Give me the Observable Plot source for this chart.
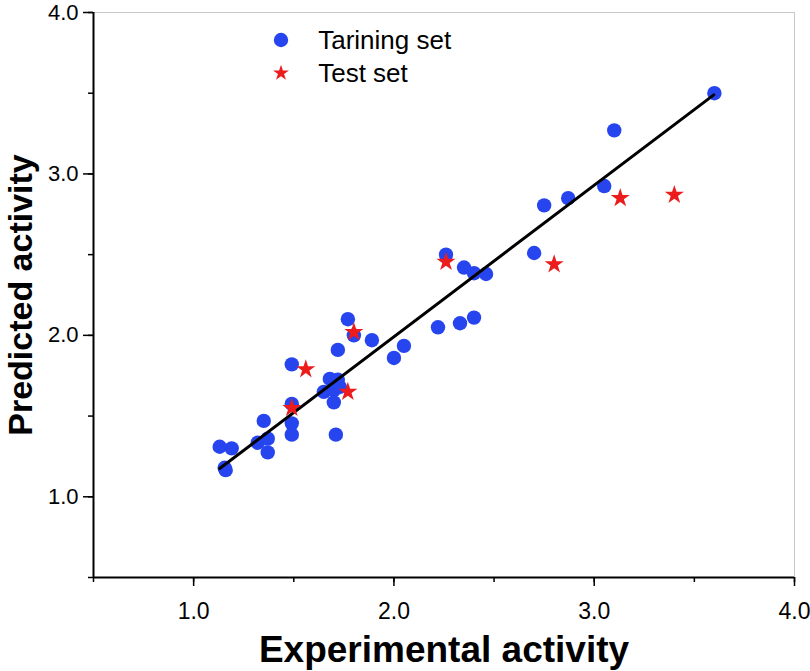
<!DOCTYPE html>
<html>
<head>
<meta charset="utf-8">
<script src="https://cdn.jsdelivr.net/npm/d3@7"></script>
<script src="https://cdn.jsdelivr.net/npm/@observablehq/plot@0.6"></script>
<style>
  html, body { margin: 0; padding: 0; background: white; }
</style>
</head>
<body>
<div id="chart"></div>
<script>
// Training set
const trainX = [1.13, 1.19, 1.155, 1.16, 1.32, 1.35, 1.37, 1.37, 1.49, 1.49, 1.49, 1.49,
  1.65, 1.68, 1.72, 1.70, 1.73, 1.70, 1.71, 1.72, 1.77, 1.80, 1.89, 2.00, 2.05,
  2.22, 2.33, 2.40, 2.26, 2.35, 2.40, 2.46, 2.70, 2.75, 2.87, 3.05, 3.10, 3.60];
const trainY = [1.31, 1.30, 1.18, 1.165, 1.335, 1.47, 1.36, 1.275, 1.385, 1.455, 1.575, 1.82,
  1.65, 1.73, 1.725, 1.66, 1.68, 1.585, 1.385, 1.91, 2.10, 2.00, 1.97, 1.86, 1.935,
  2.05, 2.075, 2.11, 2.50, 2.42, 2.385, 2.38, 2.51, 2.805, 2.85, 2.925, 3.27, 3.50];
// Test set
const testX = [1.49, 1.56, 1.77, 1.80, 2.26, 2.80, 3.13, 3.40];
const testY = [1.55, 1.79, 1.65, 2.02, 2.455, 2.44, 2.85, 2.87];
// Fitted line
const lineX = [1.13, 3.597];
const lineY = [1.175, 3.49];
// Ticks
const xTicks = [1, 2, 3, 4];
const yTicks = [1, 2, 3, 4];
const minorTicks = [0.5, 1, 1.5, 2, 2.5, 3, 3.5, 4];
const legendLabels = ["Tarining set", "Test set"];
const xLabel = "Experimental activity";
const yLabel = "Predicted activity";

const blue = "#2745ee";
const red = "#ec1c1c";

const train = trainX.map((x, i) => ({x, y: trainY[i]}));
const test = testX.map((x, i) => ({x, y: testY[i]}));
const fit = lineX.map((x, i) => ({x, y: lineY[i]}));
const fmt = d3.format(".1f");

const chart = Plot.plot({
  width: 810,
  height: 671,
  marginLeft: 93,
  marginRight: 16,
  marginTop: 12,
  marginBottom: 94,
  style: {fontFamily: "'Liberation Sans', Arial, sans-serif", background: "white", color: "black", overflow: "visible"},
  x: {domain: [0.5, 4], label: null},
  y: {domain: [0.5, 4], label: null},
  marks: [
    Plot.ruleY([4], {stroke: "#c8c8c8", strokeWidth: 1}),
    Plot.ruleX([4], {stroke: "#c8c8c8", strokeWidth: 1}),
    Plot.axisX(minorTicks, {tickSize: 5, tickFormat: () => "", strokeWidth: 1.5, label: null}),
    Plot.axisX(xTicks, {tickSize: 9, tickPadding: 16, tickFormat: fmt, fontSize: 23, strokeWidth: 1.5, label: null}),
    Plot.axisY(minorTicks, {tickSize: 5, tickFormat: () => "", strokeWidth: 1.5, label: null}),
    Plot.axisY(yTicks, {tickSize: 10, tickPadding: 5, tickFormat: fmt, fontSize: 22, strokeWidth: 1.5, label: null}),
    Plot.ruleY([0.5], {stroke: "black", strokeWidth: 2}),
    Plot.ruleX([0.5], {stroke: "black", strokeWidth: 2}),
    Plot.dot(train, {x: "x", y: "y", r: 7.2, fill: blue}),
    Plot.line(fit, {x: "x", y: "y", stroke: "black", strokeWidth: 3}),
    Plot.dot(test, {x: "x", y: "y", symbol: "star", r: 6, fill: red}),
    // legend
    Plot.dot([legendLabels[0]], {frameAnchor: "top-left", dx: 187.5, dy: 27.5, r: 7.2, fill: blue}),
    Plot.dot([legendLabels[1]], {frameAnchor: "top-left", dx: 187.5, dy: 60.5, r: 5, symbol: "star", fill: red}),
    Plot.text([legendLabels[0]], {frameAnchor: "top-left", dx: 224.7, dy: 28, textAnchor: "start", lineAnchor: "middle", fontSize: 26}),
    Plot.text([legendLabels[1]], {frameAnchor: "top-left", dx: 224.7, dy: 61, textAnchor: "start", lineAnchor: "middle", fontSize: 26}),
    // axis titles
    Plot.text([xLabel], {frameAnchor: "bottom", dy: 73, textAnchor: "middle", lineAnchor: "middle", fontSize: 37, fontWeight: "bold"}),
    Plot.text([yLabel], {frameAnchor: "left", dx: -72, rotate: -90, textAnchor: "middle", lineAnchor: "middle", fontSize: 34, fontWeight: "bold"})
  ]
});
document.getElementById("chart").appendChild(chart);
</script>
</body>
</html>
